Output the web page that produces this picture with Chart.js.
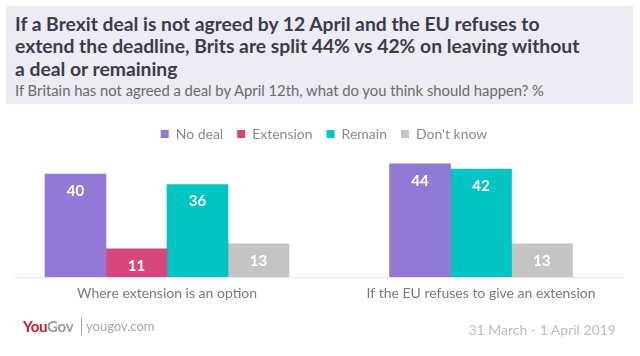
<!DOCTYPE html>
<html>
<head>
<meta charset="utf-8">
<script src="https://cdn.jsdelivr.net/npm/chart.js@4/dist/chart.umd.min.js"></script>
<style>
  html, body { margin:0; padding:0; background:#fff; }
  #wrap { position:relative; width:640px; height:356px; overflow:hidden; font-family: Lato, "Open Sans", sans-serif; }
  #hdr { position:absolute; left:6px; top:6px; width:627px; height:98px; background:#EDEBF4; }
  #title { position:absolute; left:9px; top:7px; font-weight:700; font-size:19.3px; line-height:22.3px; color:#3c3b4d; white-space:nowrap; }
  #sub { position:absolute; left:9px; top:75px; font-size:14.8px; color:#6a6a6a; white-space:nowrap; }
  #c { position:absolute; left:0; top:0; }
  #logo { position:absolute; left:23px; top:317px; font-size:15px; font-weight:700; letter-spacing:-0.3px; }
  #logo .you { color:#D0142C; } #logo .gov { color:#9a9a9a; }
  #sep { position:absolute; left:81px; top:317px; width:1px; height:18px; background:#aaa; }
  #site { position:absolute; left:86px; top:318px; font-size:13px; color:#a8a8a8; }
  #date { position:absolute; right:24px; top:321px; font-size:14px; color:#bdbdbd; }
</style>
</head>
<body>
<div id="wrap">
  <canvas id="c" width="640" height="356"></canvas>
  <div id="hdr">
    <div id="title">If a Brexit deal is not agreed by 12 April and the EU refuses to<br>extend the deadline, Brits are split 44% vs 42% on leaving without<br>a deal or remaining</div>
    <div id="sub">If Britain has not agreed a deal by April 12th, what do you think should happen? %</div>
  </div>
  <div id="logo"><span class="you">You</span><span class="gov">Gov</span></div>
  <div id="sep"></div>
  <div id="site">yougov.com</div>
  <div id="date">31 March - 1 April 2019</div>
</div>
<script>
const categories = ["Where extension is an option", "If the EU refuses to give an extension"];
const seriesNames = ["No deal", "Extension", "Remain", "Don't know"];
const noDeal = [40, 44];
const extension = [11, null];
const remain = [36, 42];
const dontKnow = [13, 13];
const colors = ["#9279D5", "#D8467D", "#00C5C3", "#C4C4C4"];

const valueLabels = {
  id: 'valueLabels',
  afterDatasetsDraw(chart) {
    const ctx = chart.ctx;
    ctx.save();
    ctx.fillStyle = '#ffffff';
    ctx.font = 'bold 15px Lato, sans-serif';
    ctx.textAlign = 'center';
    ctx.textBaseline = 'middle';
    chart.data.datasets.forEach((ds, i) => {
      const meta = chart.getDatasetMeta(i);
      meta.data.forEach((el, j) => {
        const v = ds.data[j];
        if (v === null || v === undefined) return;
        ctx.fillText(String(v), el.x, el.y + 17);
      });
    });
    ctx.restore();
  }
};
const baseLine = {
  id: 'baseLine',
  afterDatasetsDraw(chart) {
    const ctx = chart.ctx, a = chart.chartArea;
    ctx.save();
    ctx.strokeStyle = '#e2e2e2';
    ctx.lineWidth = 1;
    ctx.beginPath();
    ctx.moveTo(a.left + 5, a.bottom + 0.5);
    ctx.lineTo(a.right - 14, a.bottom + 0.5);
    ctx.stroke();
    ctx.restore();
  }
};

const data = {
  labels: categories,
  datasets: [noDeal, extension, remain, dontKnow].map((d, i) => ({
    label: seriesNames[i],
    data: d,
    backgroundColor: colors[i],
    borderWidth: 0,
    barThickness: 61,
    skipNull: true
  }))
};

new Chart(document.getElementById('c'), {
  type: 'bar',
  data,
  plugins: [valueLabels, baseLine],
  options: {
    responsive: false,
    animation: false,
    layout: { padding: { top: 113, left: 10, right: 2, bottom: 54 } },
    plugins: {
      legend: {
        position: 'top',
        labels: {
          boxWidth: 8, boxHeight: 8,
          color: '#8a8a8a',
          font: { family: 'Lato, sans-serif', size: 14 },
          padding: 14
        }
      },
      tooltip: { enabled: false },
      title: { display: false }
    },
    scales: {
      x: {
        offset: true,
        grid: { display: false },
        border: { display: false },
        ticks: { color: '#7a7a7a', font: { family: 'Lato, sans-serif', size: 14 }, padding: 0 }
      },
      y: {
        display: false,
        min: 0, max: 49
      }
    }
  }
});
</script>
</body>
</html>
